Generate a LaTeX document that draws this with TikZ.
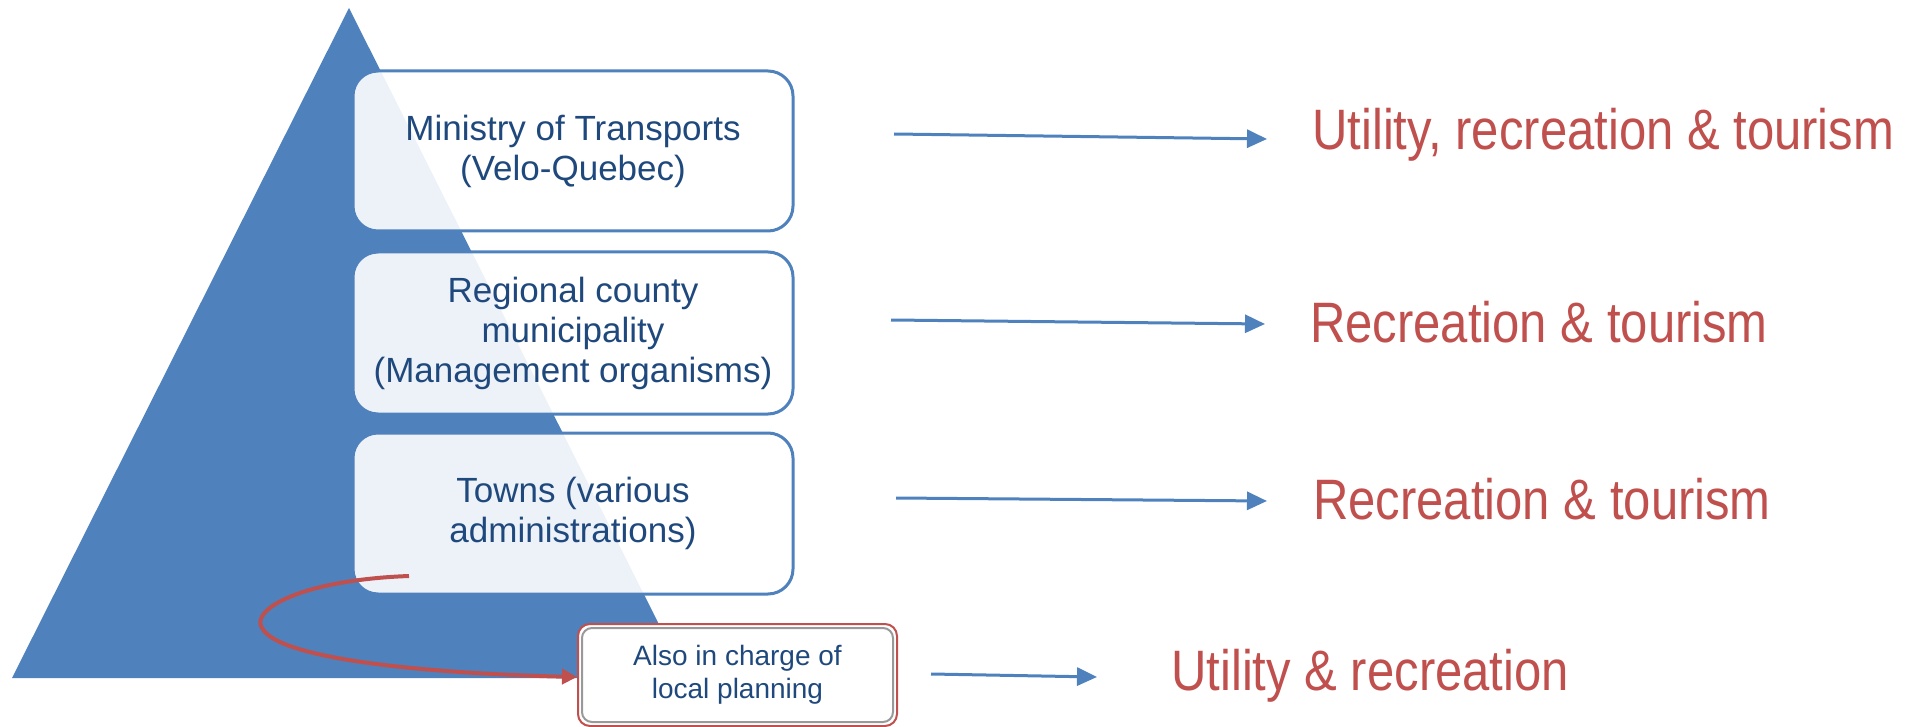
\documentclass[tikz,border=0pt]{standalone}
\usepackage{fontspec}
\setmainfont{Liberation Sans}
\newfontfamily\condfont[FakeStretch=0.86]{Liberation Sans}
\usetikzlibrary{arrows.meta}
\definecolor{triblue}{HTML}{4F81BD}
\definecolor{txtblue}{HTML}{1F497D}
\definecolor{redc}{HTML}{C0504D}
\begin{document}
\begin{tikzpicture}[x=1pt,y=-1pt,
  tier/.style={draw=triblue, line width=3pt, rounded corners=25pt, fill=white,
    fill opacity=0.9, text opacity=1, text=txtblue,
    font=\fontsize{35}{40}\selectfont, align=center, minimum width=440pt, inner sep=0pt},
  smallbox/.style={draw=redc, line width=2pt, rounded corners=12pt, fill=white,
    text=txtblue, font=\fontsize{28}{33}\selectfont, align=center,
    minimum width=319pt, minimum height=102pt, inner sep=0pt},
  usetext/.style={text=redc, font=\condfont\fontsize{57}{60}\selectfont, anchor=west, inner sep=0pt},
  arr/.style={draw=triblue, line width=3pt, -{Triangle[length=20pt,width=18pt]}},
  redarr/.style={draw=redc, line width=4pt, -{Triangle[length=15pt,width=15pt]}},
]
\useasboundingbox (0,0) rectangle (1908,727);
\fill[triblue] (349,8) -- (686,678) -- (12,678) -- cycle;

\node[tier, minimum height=160pt] (b1) at (573,151) {Ministry of Transports\\(Velo-Quebec)};
\node[tier, minimum height=162pt] (b2) at (573,333) {Regional county\\municipality\\(Management organisms)};
\node[tier, minimum height=161pt] (b3) at (573,513.5) {Towns (various\\administrations)};

\node[smallbox] (b4) at (737.5,675) {Also in charge of\\local planning};
\draw[gray!80, line width=2pt, rounded corners=10pt]
  ([shift={(5,5)}]b4.north west) rectangle ([shift={(-5,-5)}]b4.south east);

\node[usetext] (u1) at (1312,135) {Utility, recreation \& tourism};
\node[usetext] (u2) at (1310,322) {Recreation \& tourism};
\node[usetext] (u3) at (1313,499) {Recreation \& tourism};
\node[usetext] (u4) at (1171,676) {Utility \& recreation};

\coordinate (s1) at (894,134); \coordinate (e1) at (1267,139);
\coordinate (s2) at (891,320); \coordinate (e2) at (1265,324);
\coordinate (s3) at (896,498); \coordinate (e3) at (1267,501);
\coordinate (s4) at (931,674); \coordinate (e4) at (1097,677);
\draw[arr] (s1) -- (e1);
\draw[arr] (s2) -- (e2);
\draw[arr] (s3) -- (e3);
\draw[arr] (s4) -- (e4);

\coordinate (cs) at (409,576);
\coordinate (ct) at (b4.west |- 0,677);
\draw[redarr] (cs) .. controls (300,580) and (250,610) .. (262,628)
  .. controls (280,662) and (450,674) .. (ct);
\end{tikzpicture}
\end{document}
